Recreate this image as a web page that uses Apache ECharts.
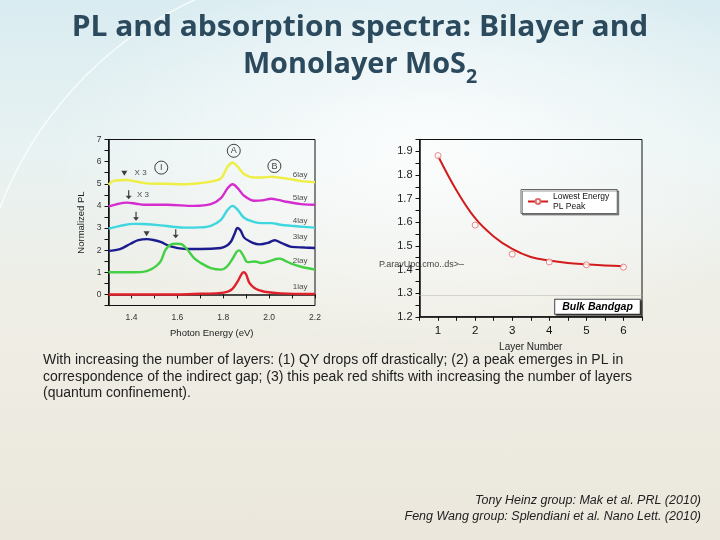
<!DOCTYPE html>
<html>
<head>
<meta charset="utf-8">
<script src="https://cdn.jsdelivr.net/npm/echarts@6/dist/echarts.min.js"></script>
<style>
  html, body {
    margin: 0;
    padding: 0;
  }
  body {
    width: 720px;
    height: 540px;
    overflow: hidden;
    background:
      radial-gradient(ellipse 380px 200px at 430px 150px, rgba(255,255,255,0.85), rgba(255,255,255,0) 100%),
      linear-gradient(to bottom, #d9ecf1 0%, #e8f2f2 28%, #efeee6 55%, #ebe7dc 100%);
  }
  #chart {
    width: 720px;
    height: 540px;
  }
</style>
</head>
<body>
<div id="chart"></div>
<script>
// PL spectra, [photon energy (eV), normalized PL], each curve offset by its layer count
const pl1lay = [[1.30, 0], [1.60, 0], [1.70, 0.03], [1.78, 0.06], [1.82, 0.13], [1.84, 0.25], [1.863, 0.59], [1.88, 0.92], [1.89, 1.0], [1.90, 0.9], [1.914, 0.52], [1.936, 0.29], [1.96, 0.18], [1.98, 0.12], [2.05, 0.05], [2.2, 0.02]];
const pl2lay = [[1.30, 1.0], [1.40, 1.0], [1.45, 1.02], [1.483, 1.12], [1.51, 1.3], [1.527, 1.49], [1.549, 2.02], [1.571, 2.25], [1.595, 2.29], [1.615, 2.28], [1.644, 2.02], [1.673, 1.64], [1.702, 1.42], [1.746, 1.19], [1.79, 1.12], [1.815, 1.25], [1.84, 1.6], [1.858, 1.92], [1.87, 1.99], [1.885, 1.8], [1.907, 1.46], [1.937, 1.49], [1.965, 1.42], [2.0, 1.5], [2.03, 1.6], [2.046, 1.62], [2.07, 1.52], [2.097, 1.39], [2.14, 1.25], [2.2, 1.12]];
const pl3lay = [[1.30, 1.97], [1.35, 2.05], [1.396, 2.29], [1.43, 2.45], [1.468, 2.5], [1.50, 2.45], [1.527, 2.37], [1.571, 2.17], [1.629, 2.06], [1.70, 2.05], [1.79, 2.1], [1.815, 2.2], [1.834, 2.39], [1.85, 2.75], [1.862, 3.0], [1.875, 2.9], [1.892, 2.56], [1.929, 2.33], [1.958, 2.26], [1.995, 2.33], [2.024, 2.45], [2.053, 2.33], [2.097, 2.15], [2.155, 2.12], [2.2, 2.1]];
const pl4lay = [[1.30, 2.97], [1.352, 3.1], [1.41, 3.19], [1.45, 3.18], [1.527, 3.12], [1.58, 3.06], [1.63, 3.02], [1.70, 3.03], [1.746, 3.1], [1.79, 3.37], [1.819, 3.82], [1.841, 4.0], [1.863, 3.82], [1.892, 3.45], [1.936, 3.27], [1.97, 3.22], [2.01, 3.22], [2.05, 3.15], [2.097, 3.1], [2.15, 3.05], [2.2, 3.02]];
const pl5lay = [[1.30, 3.97], [1.33, 4.06], [1.38, 4.15], [1.42, 4.1], [1.454, 4.05], [1.556, 4.05], [1.673, 4.0], [1.746, 4.08], [1.79, 4.35], [1.819, 4.8], [1.841, 4.98], [1.863, 4.8], [1.892, 4.45], [1.936, 4.23], [1.97, 4.25], [2.009, 4.32], [2.04, 4.27], [2.068, 4.2], [2.14, 4.08], [2.2, 4.05]];
const pl6lay = [[1.30, 4.95], [1.322, 5.13], [1.38, 5.17], [1.42, 5.1], [1.468, 5.02], [1.55, 5.0], [1.63, 4.98], [1.70, 5.03], [1.746, 5.1], [1.79, 5.24], [1.819, 5.77], [1.841, 5.95], [1.863, 5.77], [1.892, 5.43], [1.936, 5.28], [1.97, 5.28], [2.009, 5.32], [2.05, 5.27], [2.083, 5.22], [2.14, 5.12], [2.2, 5.07]];

const layerNames = ["1lay", "2lay", "3lay", "4lay", "5lay", "6lay"];
const layerColors = ["#e0202a", "#44d044", "#1c1c8e", "#3ed6df", "#d42ccf", "#eeee44"];
const layerLabelX = 2.135;
const layerLabelY = [0.34, 1.54, 2.62, 3.34, 4.38, 5.4];

// circled peak letters and indirect-gap markers, [energy, PL]
const peakLetters = ["A", "B", "I"];
const peakLetterPos = [[1.846, 6.49], [2.023, 5.8], [1.53, 5.73]];
const triangleMarks = [[1.369, 5.47], [1.466, 2.74]];
const arrowMarks = [[1.388, 4.5], [1.42, 3.53], [1.593, 2.74]];
const scaleNotes = ["X 3", "X 3"];
const scaleNotePos = [[1.44, 5.5], [1.45, 4.5]];

// lowest-energy PL peak vs layer number
const layerNumbers = [1, 2, 3, 4, 5, 6];
const peakEnergy = [1.882, 1.588, 1.465, 1.432, 1.42, 1.41];
const fitLayer = [1, 1.5, 2, 2.5, 3, 3.5, 4, 4.5, 5, 5.5, 6];
const fitEnergy = [1.88, 1.734, 1.617, 1.54, 1.487, 1.453, 1.438, 1.428, 1.422, 1.417, 1.414];
const bulkGap = 1.29;
const bulkLabelPos = [5.3, 1.242];

const axisFont = "Liberation Sans, Arial, sans-serif";
const titleFont = "'Open Sans', Lato, sans-serif";
const titleColor = "#2c4a5d";

const chart = echarts.init(document.getElementById("chart"));

function plSeries(name, data, color) {
  return {
    name: name,
    type: "line",
    xAxisIndex: 0,
    yAxisIndex: 0,
    data: data,
    smooth: 0.35,
    showSymbol: false,
    lineStyle: { color: color, width: 2.4 },
    itemStyle: { color: color },
    z: 3,
  };
}

function textLabelSeries(names, positions, size) {
  return {
    type: "scatter",
    xAxisIndex: 0,
    yAxisIndex: 0,
    data: names.map((n, i) => ({ value: positions[i], name: n })),
    symbolSize: 1,
    itemStyle: { color: "rgba(0,0,0,0)" },
    label: {
      show: true,
      position: "inside",
      formatter: (p) => p.name,
      fontSize: size,
      color: "#222",
      fontFamily: axisFont,
    },
    z: 5,
  };
}

const plData = [pl1lay, pl2lay, pl3lay, pl4lay, pl5lay, pl6lay];
const spectraSeries = plData.map((d, i) => plSeries(layerNames[i], d, layerColors[i])).reverse();

const annotationSeries = [
  textLabelSeries(layerNames, layerNames.map((n, i) => [layerLabelX, layerLabelY[i]]), 8),
  textLabelSeries(scaleNotes, scaleNotePos, 8),
  {
    type: "scatter",
    xAxisIndex: 0,
    yAxisIndex: 0,
    data: peakLetters.map((n, i) => ({ value: peakLetterPos[i], name: n })),
    symbol: "circle",
    symbolSize: 13,
    itemStyle: { color: "rgba(255,255,255,0)", borderColor: "#111", borderWidth: 1 },
    label: {
      show: true,
      position: "inside",
      formatter: (p) => p.name,
      fontSize: 9,
      color: "#111",
      fontFamily: axisFont,
    },
    z: 5,
  },
  {
    type: "scatter",
    xAxisIndex: 0,
    yAxisIndex: 0,
    data: triangleMarks,
    symbol: "triangle",
    symbolRotate: 180,
    symbolSize: [6, 5],
    itemStyle: { color: "#111" },
    z: 5,
  },
  {
    type: "scatter",
    xAxisIndex: 0,
    yAxisIndex: 0,
    data: arrowMarks,
    symbol: "path://M4,0 L6,0 L6,9 L10,9 L5,15 L0,9 L4,9 Z",
    symbolSize: [6, 9],
    itemStyle: { color: "#111" },
    z: 5,
  },
];

const peakSeries = [
  {
    name: "Lowest Energy PL Peak",
    type: "line",
    xAxisIndex: 1,
    yAxisIndex: 1,
    data: fitLayer.map((x, i) => [x, fitEnergy[i]]),
    smooth: 0.4,
    showSymbol: false,
    symbol: "emptyCircle",
    symbolSize: 5,
    lineStyle: { color: "#d21c1c", width: 2 },
    itemStyle: { color: "#e06a6a" },
    z: 3,
  },
  {
    type: "scatter",
    xAxisIndex: 1,
    yAxisIndex: 1,
    data: layerNumbers.map((x, i) => [x, peakEnergy[i]]),
    symbol: "circle",
    symbolSize: 6,
    itemStyle: { color: "#fff", borderColor: "#e06a6a", borderWidth: 1 },
    z: 4,
    markLine: {
      silent: true,
      symbol: "none",
      label: { show: false },
      lineStyle: { type: "dotted", color: "#b5b5b5", width: 1 },
      data: [{ yAxis: bulkGap }],
    },
    markPoint: {
      symbol: "rect",
      symbolSize: 1,
      itemStyle: { color: "rgba(0,0,0,0)" },
      label: {
        show: true,
        position: "inside",
        formatter: "Bulk Bandgap",
        fontSize: 10.5,
        fontStyle: "italic",
        fontWeight: "bold",
        fontFamily: axisFont,
        color: "#000",
        backgroundColor: "#fff",
        borderColor: "#444",
        borderWidth: 1,
        padding: [2, 7, 1, 7],
        shadowColor: "rgba(0,0,0,0.45)",
        shadowOffsetX: 1.5,
        shadowOffsetY: 1.5,
      },
      data: [{ coord: bulkLabelPos }],
    },
  },
];

const option = {
  animation: false,
  backgroundColor: "transparent",
  grid: [
    { left: 108.5, top: 139.5, width: 206.5, height: 166, show: true, borderColor: "#111", borderWidth: 1 },
    { left: 419.5, top: 139.5, width: 222.5, height: 177.3, show: true, borderColor: "#111", borderWidth: 1 },
  ],
  xAxis: [
    {
      gridIndex: 0,
      type: "value",
      min: 1.3,
      max: 2.2,
      interval: 0.1,
      name: "Photon Energy (eV)",
      nameLocation: "middle",
      nameGap: 23,
      nameTextStyle: { fontSize: 9.5, color: "#222", fontFamily: axisFont },
      axisLine: { lineStyle: { color: "#111", width: 1.5 } },
      axisTick: { length: 4, lineStyle: { color: "#111" } },
      axisLabel: {
        fontSize: 8.5,
        color: "#333",
        margin: 8,
        fontFamily: axisFont,
        formatter: (v) => {
          const k = Math.round(v * 10);
          return k % 2 === 0 && k > 13 ? (k / 10).toFixed(1) : "";
        },
      },
      splitLine: { show: false },
    },
    {
      gridIndex: 1,
      type: "value",
      min: 0.5,
      max: 6.5,
      interval: 0.5,
      name: "Layer Number",
      nameLocation: "middle",
      nameGap: 25,
      nameTextStyle: { fontSize: 10, color: "#222", fontFamily: axisFont },
      axisLine: { lineStyle: { color: "#111", width: 1.5 } },
      axisTick: { length: 4, lineStyle: { color: "#111" } },
      axisLabel: {
        fontSize: 11.5,
        color: "#111",
        margin: 8,
        fontFamily: axisFont,
        formatter: (v) => (Math.abs(v - Math.round(v)) < 1e-6 && v > 0.6 ? String(Math.round(v)) : ""),
      },
      splitLine: { show: false },
    },
  ],
  yAxis: [
    {
      gridIndex: 0,
      type: "value",
      min: -0.5,
      max: 7,
      interval: 0.5,
      name: "Normalized PL",
      nameLocation: "middle",
      nameGap: 22,
      nameTextStyle: { fontSize: 9.5, color: "#222", fontFamily: axisFont },
      axisLine: { lineStyle: { color: "#111", width: 1.5 } },
      axisTick: { length: 4, lineStyle: { color: "#111" } },
      axisLabel: {
        fontSize: 8.5,
        color: "#333",
        margin: 7,
        fontFamily: axisFont,
        formatter: (v) => (Math.abs(v - Math.round(v)) < 1e-6 ? String(Math.round(v)) : ""),
      },
      splitLine: { show: false },
    },
    {
      gridIndex: 1,
      type: "value",
      min: 1.2,
      max: 1.95,
      interval: 0.05,
      axisLine: { lineStyle: { color: "#111", width: 1.5 } },
      axisTick: { length: 4, lineStyle: { color: "#111" } },
      axisLabel: {
        fontSize: 11,
        color: "#222",
        margin: 7,
        fontFamily: axisFont,
        formatter: (v) => {
          const k = Math.round(v * 100);
          return k % 10 === 0 ? (k / 100).toFixed(1) : "";
        },
      },
      splitLine: { show: false },
    },
  ],
  legend: {
    data: ["Lowest Energy PL Peak"],
    left: 521,
    top: 189.5,
    backgroundColor: "#fff",
    borderColor: "#666",
    borderWidth: 1,
    borderRadius: 0,
    padding: [2, 8, 2, 6],
    itemWidth: 20,
    itemHeight: 6,
    shadowColor: "rgba(0,0,0,0.4)",
    shadowOffsetX: 1.5,
    shadowOffsetY: 1.5,
    formatter: () => "Lowest Energy\nPL Peak",
    textStyle: { fontSize: 8.5, lineHeight: 10, color: "#111", fontFamily: axisFont },
  },
  graphic: [
    {
      type: "arc",
      silent: true,
      z: -10,
      shape: { cx: 353, cy: 343, r: 378, startAngle: 3.45, endAngle: 4.3 },
      style: { stroke: "rgba(255,255,255,0.75)", lineWidth: 1.5, fill: null },
    },
    {
      type: "text",
      x: 360,
      y: 10,
      scaleX: 1.07,
      style: {
        text: "PL and absorption spectra: Bilayer and",
        font: "bold 28px " + titleFont,
        lineHeight: 36,
        fill: titleColor,
        align: "center",
        verticalAlign: "top",
      },
    },
    {
      type: "text",
      x: 360,
      y: 51,
      scaleX: 1.03,
      style: {
        text: "{a|Monolayer MoS}{b|2}",
        align: "center",
        verticalAlign: "top",
        rich: {
          a: { fontSize: 28, fontWeight: "bold", fontFamily: titleFont, lineHeight: 36, verticalAlign: "top", fill: titleColor },
          b: { fontSize: 19, fontWeight: "bold", fontFamily: titleFont, lineHeight: 13, verticalAlign: "bottom", fill: titleColor },
        },
      },
    },
    {
      type: "text",
      left: 379,
      top: 260,
      style: {
        text: "P.aravUpc.cmo..ds>–",
        font: "9px 'Liberation Sans', sans-serif",
        fill: "#444",
      },
    },
    {
      type: "text",
      left: 43,
      top: 352,
      style: {
        text: "With increasing the number of layers: (1) QY drops off drastically; (2) a peak emerges in PL in\ncorrespondence of the indirect gap; (3) this peak red shifts with increasing the number of layers\n(quantum confinement).",
        font: "14px 'Liberation Sans', sans-serif",
        lineHeight: 16.6,
        fill: "#222",
      },
    },
    {
      type: "text",
      right: 19,
      top: 494,
      style: {
        text: "Tony Heinz group: Mak et al. PRL (2010)",
        font: "italic 12.5px 'Liberation Sans', sans-serif",
        fill: "#222",
        align: "right",
      },
    },
    {
      type: "text",
      right: 19,
      top: 510,
      style: {
        text: "Feng Wang group: Splendiani et al. Nano Lett. (2010)",
        font: "italic 12.5px 'Liberation Sans', sans-serif",
        fill: "#222",
        align: "right",
      },
    },
  ],
  series: spectraSeries.concat(annotationSeries, peakSeries),
};

chart.setOption(option);
</script>
</body>
</html>
